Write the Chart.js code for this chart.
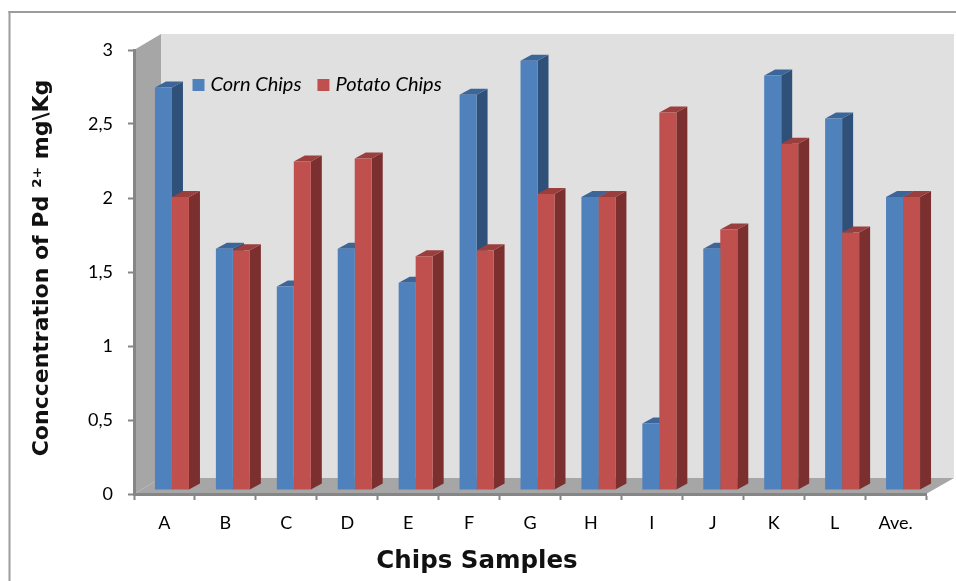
<!DOCTYPE html>
<html><head><meta charset="utf-8">
<style>html,body{margin:0;padding:0;background:#fff}canvas{display:block}</style>
<script src="https://cdn.jsdelivr.net/npm/chart.js@4"></script>
</head><body><canvas id="c" width="956" height="581"></canvas>
<script>
const categories = ['A','B','C','D','E','F','G','H','I','J','K','L','Ave.'];
const cornChips = [2.72,1.63,1.375,1.63,1.40,2.67,2.90,1.98,0.45,1.63,2.80,2.51,1.98];
const potatoChips = [1.98,1.62,2.22,2.24,1.58,1.62,2.0,1.98,2.55,1.76,2.34,1.74,1.98];
const yTicks = [0,0.5,1,1.5,2,2.5,3];
const seriesNames = ['Corn Chips','Potato Chips'];
const xTitle = 'Chips Samples';
const yTitle = 'Conccentration of Pd \u00B2\u207A mg\\Kg';

const BLUE='#4f81bd', RED='#c0504d';
const SIDE=[ '#2f5179','#7b2f2e' ], TOP=[ '#3c6699','#9a3f3d' ];
const WALL='#e0e0e0', FLOOR='#a6a6a6', AXIS='#868686', FRAME='#9c9c9c';
const DX=27, DY=16;            // depth of the box
const BX=7.5, BY=4;            // bars stand slightly behind the front edge
const SX=11, SY=6;             // depth of each bar

function poly(ctx,pts,fill){ctx.beginPath();pts.forEach((p,i)=>i?ctx.lineTo(p[0],p[1]):ctx.moveTo(p[0],p[1]));ctx.closePath();ctx.fillStyle=fill;ctx.fill();}

const box3d={
  id:'box3d',
  afterLayout(chart){
    const lg=chart.legend;
    const w=lg.width,h=lg.height;
    lg.left=176.5;lg.right=176.5+w;lg.top=80-h/2;lg.bottom=80+h/2;
    const s=chart.scales.x, y=chart.scales.y, ctx=chart.ctx;
    if(!s._shifted){s._shifted=true;const o=s.drawTitle;s.drawTitle=function(){ctx.save();ctx.translate(-53,0);o.call(this);ctx.restore();};}
    if(!y._shifted){y._shifted=true;const o=y.drawTitle;y.drawTitle=function(){ctx.save();ctx.translate(0,-4);o.call(this);ctx.restore();};}
  },
  beforeDraw(chart){
    const {ctx,chartArea:a,width,height}=chart;
    ctx.save();
    ctx.fillStyle='#fff';ctx.fillRect(0,0,width,height);
    ctx.fillStyle=FRAME;
    ctx.fillRect(8.5,11,width-8.5,2);
    ctx.fillRect(8.5,11,2,height-11);
    poly(ctx,[[a.left+DX,a.top-DY],[width-2,a.top-DY],[width-2,a.bottom-DY],[a.left+DX,a.bottom-DY]],WALL);
    poly(ctx,[[a.left,a.top],[a.left+DX,a.top-DY],[a.left+DX,a.bottom-DY],[a.left,a.bottom]],FLOOR);
    poly(ctx,[[a.left,a.bottom],[a.left+DX,a.bottom-DY],[width-2,a.bottom-DY],[a.right,a.bottom]],FLOOR);
    ctx.restore();
  },
  beforeDatasetsDraw(chart){
    const {ctx}=chart;
    ctx.save();
    ctx.translate(BX,-BY);
    categories.forEach((_,i)=>{
      [0,1].forEach(d=>{
        const b=chart.getDatasetMeta(d).data[i];
        const l=b.x-b.width/2,r=b.x+b.width/2,t=b.y,bt=b.base;
        poly(ctx,[[r,t],[r+SX,t-SY],[r+SX,bt-SY],[r,bt]],SIDE[d]);
        poly(ctx,[[l,t],[l+SX,t-SY],[r+SX,t-SY],[r,t]],TOP[d]);
      });
    });
  },
  afterDatasetsDraw(chart){chart.ctx.restore();}
};

new Chart(document.getElementById('c'),{
  type:'bar',
  data:{labels:categories,datasets:[
    {label:seriesNames[0],data:cornChips,backgroundColor:BLUE,borderWidth:0,categoryPercentage:0.558,barPercentage:1,clip:false},
    {label:seriesNames[1],data:potatoChips,backgroundColor:RED,borderWidth:0,categoryPercentage:0.558,barPercentage:1,clip:false}
  ]},
  options:{
    responsive:false,animation:false,devicePixelRatio:1,
    layout:{padding:{left:0,right:30,top:0,bottom:0}},
    plugins:{
      tooltip:{enabled:false},
      title:{display:false},
      legend:{
        display:true,position:'top',align:'start',
        labels:{
          boxWidth:4,boxHeight:4,padding:20,color:'#000',
          font:{family:'Lato',size:20,style:'italic'},
          generateLabels(chart){
            return Chart.defaults.plugins.legend.labels.generateLabels(chart).map(l=>Object.assign(l,{lineWidth:8,strokeStyle:l.fillStyle}));
          }
        }
      }
    },
    scales:{
      x:{
        offset:true,
        grid:{display:true,offset:true,drawOnChartArea:false,drawTicks:true,tickLength:6,tickColor:AXIS,tickWidth:2},
        border:{display:true,color:AXIS,width:3},
        ticks:{color:'#000',font:{family:'Lato',size:18},padding:12,maxRotation:0,autoSkip:false},
        title:{display:true,text:xTitle,color:'#111',font:{family:'DejaVu Sans',size:24.5,weight:'bold'},padding:{top:14,bottom:5}},
        afterFit(s){s.height=87;}
      },
      y:{
        min:0,max:3,
        afterBuildTicks(s){s.ticks=yTicks.map(v=>({value:v}));},
        grid:{display:true,drawOnChartArea:false,drawTicks:true,tickLength:6,tickColor:AXIS,tickWidth:2},
        border:{display:true,color:AXIS,width:3},
        ticks:{color:'#000',font:{family:'Lato',size:18},padding:15,callback:v=>String(v).replace('.',',')},
        title:{display:true,text:yTitle,color:'#111',font:{family:'DejaVu Sans',size:22,weight:'bold'},padding:{top:29,bottom:0}},
        afterFit(s){s.width=134;}
      }
    }
  },
  plugins:[box3d]
});
</script></body></html>
